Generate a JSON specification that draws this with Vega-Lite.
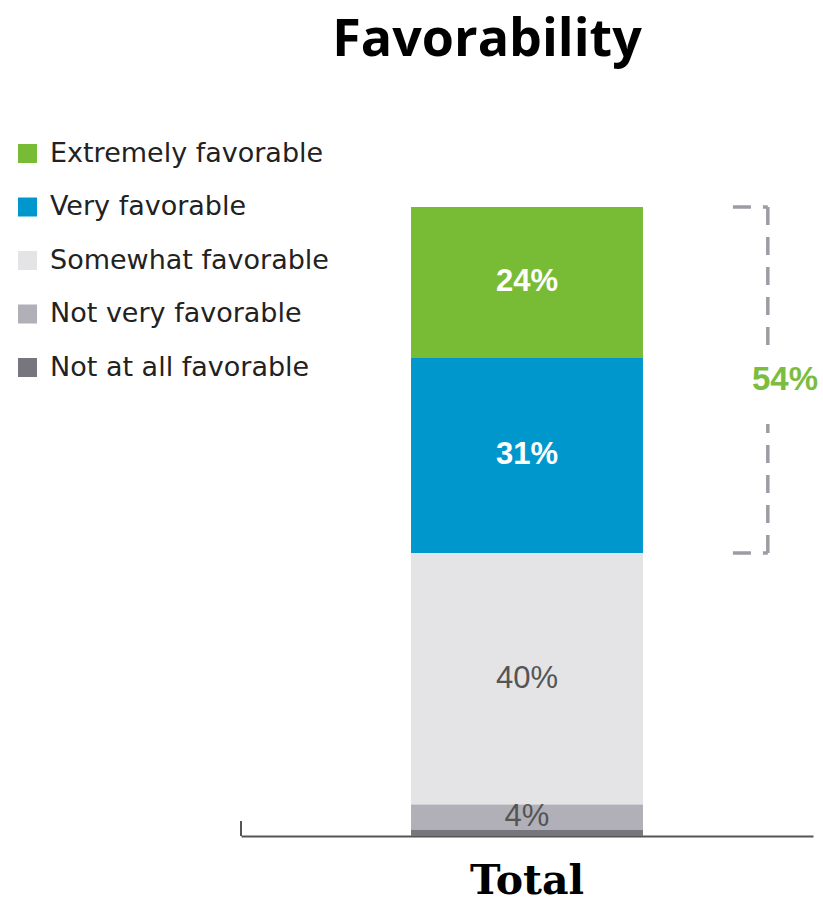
{
  "$schema": "https://vega.github.io/schema/vega-lite/v6.json",
  "autosize": "none",
  "width": 572,
  "height": 629,
  "padding": {"left": 241, "top": 207, "right": 10, "bottom": 67},
  "background": "white",
  "title": {"text": "Favorability", "font": "Open Sans", "fontSize": 52, "fontWeight": "bold", "color": "#000000", "anchor": "middle", "frame": "group", "dx": -40, "offset": 73},
  "config": {
    "view": {"stroke": null},
    "legend": {"orient": "none", "legendX": -227, "legendY": -67, "symbolType": "square", "symbolSize": 361, "symbolStrokeWidth": 0, "labelFont": "DejaVu Sans", "labelFontSize": 27, "labelColor": "#222222", "labelLimit": 0, "rowPadding": 25.5, "labelOffset": 9, "padding": 0, "titlePadding": 0}
  },
  "resolve": {"scale": {"x": "independent"}},
  "layer": [
    {
      "data": {"values": [
        {"group": "Total", "category": "Extremely favorable", "share": 0.24, "level": 5},
        {"group": "Total", "category": "Very favorable", "share": 0.31, "level": 4},
        {"group": "Total", "category": "Somewhat favorable", "share": 0.40, "level": 3},
        {"group": "Total", "category": "Not very favorable", "share": 0.04, "level": 2},
        {"group": "Total", "category": "Not at all favorable", "share": 0.01, "level": 1}
      ]},
      "encoding": {
        "x": {"field": "group", "type": "nominal", "scale": {"paddingInner": 0, "paddingOuter": 0.733},
          "axis": {"title": null, "labelAngle": 0, "ticks": false, "domain": true, "domainColor": "#555555", "domainWidth": 2, "labelFont": "DejaVu Serif", "labelFontWeight": "bold", "labelFontSize": 41, "labelColor": "#000000", "labelPadding": 25}},
        "y": {"field": "share", "type": "quantitative", "stack": "zero", "scale": {"domain": [0, 1], "nice": false}, "axis": null},
        "order": {"field": "level", "type": "quantitative"}
      },
      "layer": [
        {
          "mark": {"type": "bar"},
          "encoding": {
            "color": {"field": "category", "type": "nominal", "title": null,
              "scale": {"domain": ["Extremely favorable", "Very favorable", "Somewhat favorable", "Not very favorable", "Not at all favorable"],
                        "range": ["#78bc36", "#0098cc", "#e4e4e6", "#b1b0b8", "#77767f"]}}
          }
        },
        {
          "mark": {"type": "text", "font": "Liberation Sans", "fontSize": 31, "fontWeight": "bold", "color": "#ffffff", "baseline": "middle"},
          "encoding": {
            "y": {"field": "share", "type": "quantitative", "stack": "zero", "bandPosition": 0.5, "axis": null},
            "detail": {"field": "category", "type": "nominal"},
            "text": {"field": "share", "type": "quantitative", "format": ".0%", "condition": {"test": "datum.level < 4", "value": ""}}
          }
        },
        {
          "mark": {"type": "text", "font": "Liberation Sans", "fontSize": 31, "color": "#555555", "baseline": "middle"},
          "encoding": {
            "y": {"field": "share", "type": "quantitative", "stack": "zero", "bandPosition": 0.5, "axis": null},
            "detail": {"field": "category", "type": "nominal"},
            "text": {"field": "share", "type": "quantitative", "format": ".0%", "condition": {"test": "datum.level >= 4 || datum.level < 2", "value": ""}}
          }
        }
      ]
    },
    {
      "data": {"values": [{"from": 0.45, "to": 1.0, "label": "54%"}]},
      "layer": [
        {
          "mark": {"type": "rule", "color": "#9d9ca5", "strokeWidth": 3.5, "strokeDash": [18, 12]},
          "encoding": {
            "x": {"datum": 86, "type": "quantitative", "scale": {"domain": [0, 100], "nice": false}, "axis": null},
            "x2": {"datum": 92.1},
            "y": {"field": "to", "type": "quantitative", "axis": null}
          }
        },
        {
          "mark": {"type": "rule", "color": "#9d9ca5", "strokeWidth": 3.5, "strokeDash": [18, 12]},
          "encoding": {
            "x": {"datum": 86, "type": "quantitative", "axis": null},
            "x2": {"datum": 92.1},
            "y": {"field": "from", "type": "quantitative", "axis": null}
          }
        },
        {
          "mark": {"type": "rule", "color": "#9d9ca5", "strokeWidth": 3.5, "strokeDash": [18, 12]},
          "encoding": {
            "x": {"datum": 92.1, "type": "quantitative", "axis": null},
            "y": {"field": "to", "type": "quantitative", "axis": null},
            "y2": {"datum": 0.78}
          }
        },
        {
          "mark": {"type": "rule", "color": "#9d9ca5", "strokeWidth": 3.5, "strokeDash": [18, 12]},
          "encoding": {
            "x": {"datum": 92.1, "type": "quantitative", "axis": null},
            "y": {"field": "from", "type": "quantitative", "axis": null},
            "y2": {"datum": 0.655}
          }
        },
        {
          "mark": {"type": "text", "font": "Liberation Sans", "fontSize": 33, "fontWeight": "bold", "color": "#7cbd3f", "align": "center", "baseline": "middle"},
          "encoding": {
            "x": {"datum": 95.1, "type": "quantitative", "axis": null},
            "y": {"datum": 0.725, "type": "quantitative", "axis": null},
            "text": {"field": "label", "type": "nominal"}
          }
        },
        {
          "mark": {"type": "rule", "color": "#555555", "strokeWidth": 2},
          "encoding": {
            "x": {"datum": 0, "type": "quantitative", "axis": null},
            "y": {"datum": 0, "type": "quantitative", "axis": null},
            "y2": {"datum": 0.024}
          }
        }
      ]
    }
  ]
}
